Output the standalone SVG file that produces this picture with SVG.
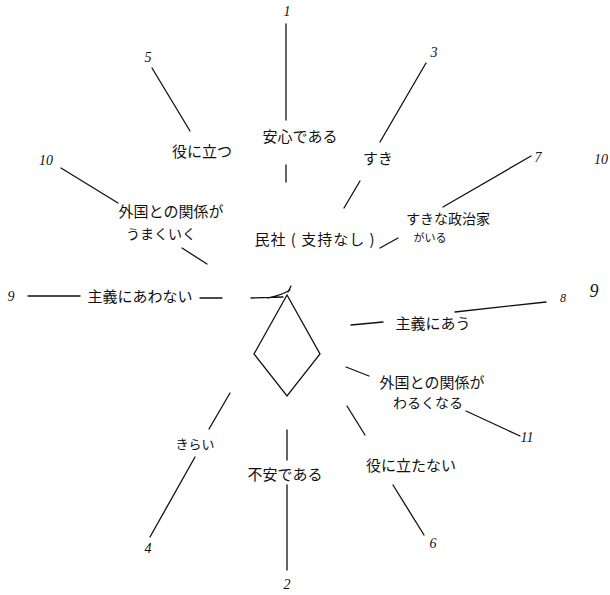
<svg xmlns="http://www.w3.org/2000/svg" width="610" height="595" viewBox="0 0 610 595">
<style>
.t{font-family:"Noto Sans CJK JP","Noto Sans",sans-serif;font-size:15px;fill:#111;text-anchor:middle}
.s{font-size:11px}
.n{font-family:"Liberation Serif",serif;font-style:italic;font-size:14px;fill:#111;text-anchor:middle}
.c line,.c path,.c polyline{stroke:#111;stroke-width:1.3;fill:none;stroke-linecap:round}
</style>
<rect width="610" height="595" fill="#fff"/>
<g class="c" id="connectors">
<line x1="286" y1="24" x2="286" y2="120"/>
<line x1="286" y1="165" x2="286" y2="182"/>
<line x1="152" y1="68" x2="190" y2="131"/>
<line x1="426" y1="63" x2="380" y2="142"/>
<line x1="360" y1="181" x2="344" y2="208"/>
<line x1="531" y1="156" x2="443" y2="207"/>
<line x1="380" y1="248" x2="398" y2="238"/>
<line x1="61" y1="168" x2="118" y2="203"/>
<line x1="182" y1="248" x2="207" y2="264"/>
<line x1="28" y1="296" x2="80" y2="296"/>
<line x1="200" y1="298" x2="222" y2="298"/>
<path d="M251 298 L283 297 M268 298 Q282 295 290 290 M288 292 L291 286"/>
<line x1="455" y1="312" x2="546" y2="302"/>
<line x1="351" y1="325" x2="383" y2="322"/>
<line x1="346" y1="367" x2="369" y2="376"/>
<line x1="466" y1="411" x2="520" y2="436"/>
<line x1="347" y1="406" x2="365" y2="435"/>
<line x1="393" y1="485" x2="424" y2="535"/>
<line x1="230" y1="393" x2="209" y2="429"/>
<line x1="195" y1="457" x2="150" y2="537"/>
<line x1="287" y1="430" x2="287" y2="460"/>
<line x1="287" y1="485" x2="287" y2="570"/>
</g>
<g id="center">
<polygon points="287,295 320,354 287,396 254,354" fill="none" stroke="#111" stroke-width="1.3"/>
</g>
<g id="n-1"><text class="n" x="287" y="16">1</text></g>
<g id="anshin"><text class="t" x="300" y="142">安心である</text></g>
<g id="n-5"><text class="n" x="148" y="62">5</text></g>
<g id="yakunitatsu"><text class="t" x="202" y="157">役に立つ</text></g>
<g id="n-3"><text class="n" x="434" y="57">3</text></g>
<g id="suki"><text class="t" x="378" y="164">すき</text></g>
<g id="n-7"><text class="n" x="538" y="162">7</text></g>
<g id="sukina"><text class="t" x="448" y="224" style="font-size:14px">すきな政治家</text><text class="t s" x="430" y="242">がいる</text></g>
<g id="n-10r"><text class="n" x="601" y="164">10</text></g>
<g id="n-10l"><text class="n" x="46" y="165">10</text></g>
<g id="umaku"><text class="t" x="171" y="217">外国との関係が</text><text class="t" x="161" y="239" style="font-size:14px">うまくいく</text></g>
<g id="minsha"><text class="t" x="315" y="245" style="letter-spacing:1px">民社 ( 支持なし )</text></g>
<g id="n-9l"><text class="n" x="11" y="301">9</text></g>
<g id="awanai"><text class="t" x="140" y="302">主義にあわない</text></g>
<g id="n-8"><text class="n" x="563" y="302" style="font-size:12px">8</text></g>
<g id="n-9r"><text class="n" x="594" y="297" style="font-size:18px">9</text></g>
<g id="au"><text class="t" x="433" y="329">主義にあう</text></g>
<g id="warukunaru"><text class="t" x="432" y="388">外国との関係が</text><text class="t" x="428" y="408" style="font-size:14px">わるくなる</text></g>
<g id="n-11"><text class="n" x="527" y="442">11</text></g>
<g id="yakunitatanai"><text class="t" x="411" y="471">役に立たない</text></g>
<g id="n-6"><text class="n" x="433" y="548">6</text></g>
<g id="kirai"><text class="t" x="195" y="449" style="font-size:13px">きらい</text></g>
<g id="n-4"><text class="n" x="148" y="553">4</text></g>
<g id="fuan"><text class="t" x="285" y="480">不安である</text></g>
<g id="n-2"><text class="n" x="287" y="589">2</text></g>
</svg>
